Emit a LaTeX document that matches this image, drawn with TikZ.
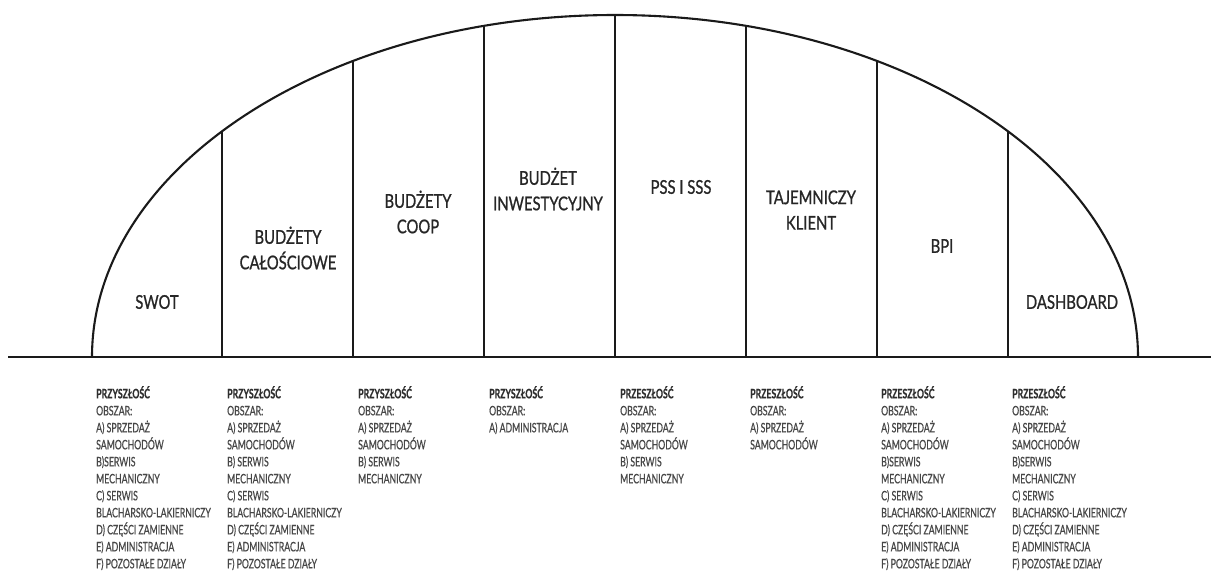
\documentclass[tikz,border=0pt]{standalone}
\usepackage{fontspec}
\setmainfont{Lato}
\newfontfamily\headfont{Lato}[FakeStretch=0.78,FakeBold=0.9]
\newfontfamily\listfont{Lato}[FakeStretch=0.67,FakeBold=0.6]
\definecolor{inkline}{HTML}{1A1A1A}
\definecolor{inkhead}{HTML}{262626}
\definecolor{inklist}{HTML}{474747}
\definecolor{inklisthead}{HTML}{2E2E2E}
\begin{document}
\begin{tikzpicture}[x=1pt,y=-1pt,
  sector/.style={font=\headfont\fontsize{19}{25.5}\selectfont, text=inkhead,
    align=center, inner sep=0pt},
  arealist/.style={font=\listfont\fontsize{13}{17}\selectfont, text=inklist,
    align=left, anchor=north west, inner sep=0pt},
  divider/.style={draw=inkline, line width=1.5pt},
  ground/.style={draw=inkline, line width=2.8pt},
  dome/.style={draw=inkline, line width=2.1pt}]
\useasboundingbox (0,0) rectangle (1211,574);

% ground line and the dome over it
\coordinate (gl) at (8,357);
\coordinate (gr) at (1211,357);
\coordinate (domeL) at (92,357);
\draw[ground] (gl) -- (gr);
\draw[dome] (domeL) arc[start angle=180, end angle=0, x radius=523pt, y radius=342pt];

% vertical dividers from the ground up to the dome
\foreach \k in {-3,...,3}{
  \coordinate (b\k) at ({615+\k*131},357);
  \coordinate (t\k) at ({615+\k*131},{357-342*sqrt(1-((\k*131)/523)^2)});
  \draw[divider] (b\k) -- (t\k);
}

% sector titles
\node[sector] (swot) at (157,302) {SWOT};
\node[sector] (calos) at (288,248) {BUDŻETY\\CAŁOŚCIOWE};
\node[sector] (coop) at (418,212) {BUDŻETY\\COOP};
\node[sector] (inwest) at (548,189) {BUDŻET\\INWESTYCYJNY};
\node[sector] (pss) at (681,187) {PSS I SSS};
\node[sector] (klient) at (811,210) {TAJEMNICZY\\KLIENT};
\node[sector] (bpi) at (942,246) {BPI};
\node[sector] (dash) at (1072,302) {DASHBOARD};

% area lists under the ground line
\node[arealist] (l1) at (96,386) {{\bfseries\color{inklisthead}PRZYSZŁOŚĆ}\\OBSZAR:\\A) SPRZEDAŻ\\SAMOCHODÓW\\B)SERWIS\\MECHANICZNY\\C) SERWIS\\BLACHARSKO-LAKIERNICZY\\D) CZĘŚCI ZAMIENNE\\E) ADMINISTRACJA\\F) POZOSTAŁE DZIAŁY};
\node[arealist] (l2) at (227,386) {{\bfseries\color{inklisthead}PRZYSZŁOŚĆ}\\OBSZAR:\\A) SPRZEDAŻ\\SAMOCHODÓW\\B) SERWIS\\MECHANICZNY\\C) SERWIS\\BLACHARSKO-LAKIERNICZY\\D) CZĘŚCI ZAMIENNE\\E) ADMINISTRACJA\\F) POZOSTAŁE DZIAŁY};
\node[arealist] (l3) at (358,386) {{\bfseries\color{inklisthead}PRZYSZŁOŚĆ}\\OBSZAR:\\A) SPRZEDAŻ\\SAMOCHODÓW\\B) SERWIS\\MECHANICZNY};
\node[arealist] (l4) at (489,386) {{\bfseries\color{inklisthead}PRZYSZŁOŚĆ}\\OBSZAR:\\A) ADMINISTRACJA};
\node[arealist] (l5) at (620,386) {{\bfseries\color{inklisthead}PRZESZŁOŚĆ}\\OBSZAR:\\A) SPRZEDAŻ\\SAMOCHODÓW\\B) SERWIS\\MECHANICZNY};
\node[arealist] (l6) at (750,386) {{\bfseries\color{inklisthead}PRZESZŁOŚĆ}\\OBSZAR:\\A) SPRZEDAŻ\\SAMOCHODÓW};
\node[arealist] (l7) at (881,386) {{\bfseries\color{inklisthead}PRZESZŁOŚĆ}\\OBSZAR:\\A) SPRZEDAŻ\\SAMOCHODÓW\\B)SERWIS\\MECHANICZNY\\C) SERWIS\\BLACHARSKO-LAKIERNICZY\\D) CZĘŚCI ZAMIENNE\\E) ADMINISTRACJA\\F) POZOSTAŁE DZIAŁY};
\node[arealist] (l8) at (1012,386) {{\bfseries\color{inklisthead}PRZESZŁOŚĆ}\\OBSZAR:\\A) SPRZEDAŻ\\SAMOCHODÓW\\B)SERWIS\\MECHANICZNY\\C) SERWIS\\BLACHARSKO-LAKIERNICZY\\D) CZĘŚCI ZAMIENNE\\E) ADMINISTRACJA\\F) POZOSTAŁE DZIAŁY};
\end{tikzpicture}
\end{document}
